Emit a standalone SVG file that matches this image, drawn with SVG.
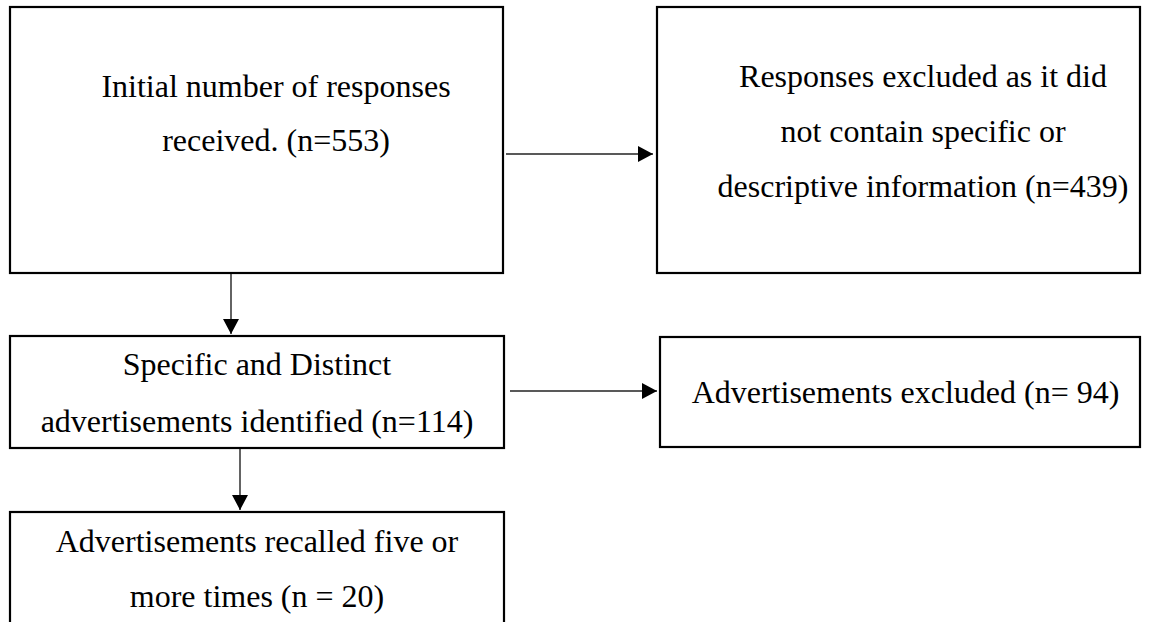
<svg xmlns="http://www.w3.org/2000/svg" width="1154" height="622" viewBox="0 0 1154 622">
  <defs>
    <style>
      .box { fill: #ffffff; stroke: #000000; stroke-width: 2.2; }
      .lbl { font-family: "Liberation Serif", "Times New Roman", serif; font-size: 32px; fill: #000000; text-anchor: middle; }
      .conn { stroke: #222222; stroke-width: 1.4; fill: none; marker-end: url(#arrow); }
    </style>
    <marker id="arrow" markerUnits="userSpaceOnUse" markerWidth="16" markerHeight="18" refX="15" refY="8" orient="auto">
      <path d="M0,0 L15,8 L0,16 Z" fill="#000000"/>
    </marker>
  </defs>
  <rect width="1154" height="622" fill="#ffffff"/>

  <g id="connectors">
    <line class="conn" x1="506" y1="154" x2="653" y2="154"/>
    <line class="conn" x1="231" y1="273" x2="231" y2="334"/>
    <line class="conn" x1="510" y1="391" x2="657" y2="391"/>
    <line class="conn" x1="240" y1="448" x2="240" y2="510"/>
  </g>

  <g id="node-initial">
    <rect class="box" x="10" y="7" width="493" height="266"/>
    <text class="lbl" x="276" y="97">Initial number of responses</text>
    <text class="lbl" x="276" y="151">received. (n=553)</text>
  </g>

  <g id="node-excluded-responses">
    <rect class="box" x="657" y="7" width="483" height="266"/>
    <text class="lbl" x="923" y="87">Responses excluded as it did</text>
    <text class="lbl" x="923" y="142">not contain specific or</text>
    <text class="lbl" x="923" y="197">descriptive information (n=439)</text>
  </g>

  <g id="node-specific">
    <rect class="box" x="10" y="336" width="494" height="112"/>
    <text class="lbl" x="257" y="375">Specific and Distinct</text>
    <text class="lbl" x="257" y="432">advertisements identified (n=114)</text>
  </g>

  <g id="node-ads-excluded">
    <rect class="box" x="660" y="337" width="480" height="110"/>
    <text class="lbl" x="905.5" y="403">Advertisements excluded (n= 94)</text>
  </g>

  <g id="node-recalled">
    <rect class="box" x="10" y="512" width="494" height="130"/>
    <text class="lbl" x="257" y="552">Advertisements recalled five or</text>
    <text class="lbl" x="257" y="607">more times (n = 20)</text>
  </g>
</svg>
